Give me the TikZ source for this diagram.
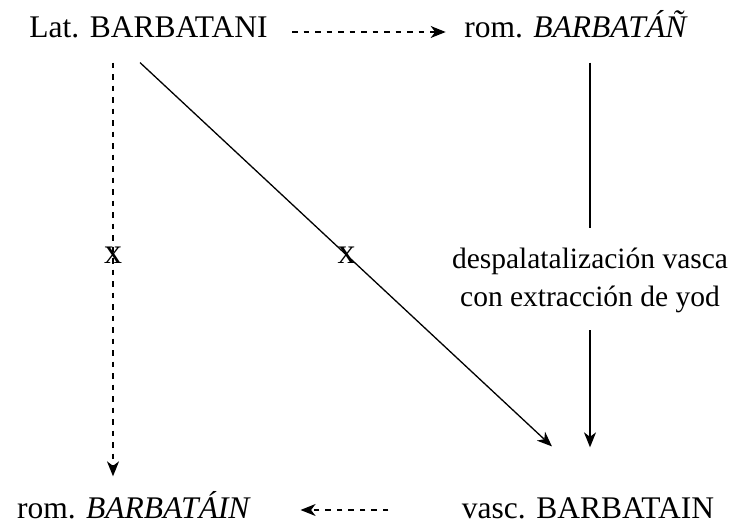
\documentclass[tikz,border=0pt]{standalone}
\usepackage{fontspec}
\setmainfont{Liberation Serif}
\usetikzlibrary{arrows.meta}
\begin{document}
\begin{tikzpicture}[x=1pt,y=1pt,
  lbl/.style={inner sep=0pt,text height=21pt,text depth=0pt,font=\fontsize{31.5}{38}\selectfont},
  midlbl/.style={inner sep=0pt,align=center,font=\fontsize{29.5}{38}\selectfont},
  cross/.style={inner sep=0pt,font=\fontsize{36}{40}\selectfont},
  tip/.style={-{Stealth[length=15pt,width=12pt,inset=4.5pt]}},
  dsh/.style={dash pattern=on 5.5pt off 6pt},
  line width=1.3pt]
\useasboundingbox (0,0) rectangle (733,532);
\node[lbl,anchor=base] (lat) at (148.5,494) {Lat. BARBATANI};
\node[lbl,anchor=base] (rom1) at (576,494) {rom. \textit{BARBATÁÑ}};
\node[lbl,anchor=base] (rom2) at (134,13) {rom. \textit{BARBATÁIN}};
\node[lbl,anchor=base] (vasc) at (588,13) {vasc. BARBATAIN};
\node[midlbl] (mid) at (590,252) {despalatalización vasca\\con extracción de yod};
% top dashed
\draw[tip,dsh,shorten <=24pt,shorten >=18pt] ([yshift=-4.5pt]lat.east) -- ([yshift=-4.5pt]rom1.west);
% right vertical
\draw[shorten <=24pt,shorten >=19pt] ([xshift=14pt]rom1.south) -- (mid.north);
\draw[tip,shorten <=17pt,shorten >=50pt] (mid.south) -- ([xshift=2pt]vasc.north);
% left dashed vertical
\draw[tip,dsh,shorten <=24pt,shorten >=21pt] ([xshift=-35.5pt]lat.south) -- ([xshift=-21pt]rom2.north)
  node[cross,pos=0.4717] (x1) {x};
% diagonal
\draw[tip,shorten <=35.2pt,shorten >=74.7pt] ([xshift=-34.2pt]lat.south) -- ([xshift=18.6pt]vasc.north)
  node[cross,pos=0.4717] (x2) {x};
% bottom dashed
\draw[tip,dsh,shorten <=73pt,shorten >=49pt] ([yshift=-1.5pt]vasc.west) -- ([yshift=-1.5pt]rom2.east);
\end{tikzpicture}
\end{document}
